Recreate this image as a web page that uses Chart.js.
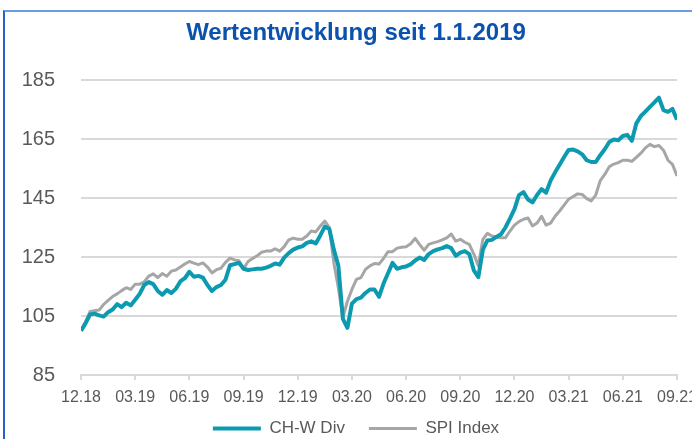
<!DOCTYPE html>
<html>
<head>
<meta charset="utf-8">
<script src="https://cdn.jsdelivr.net/npm/chart.js@4"></script>
<style>
  html, body { margin:0; padding:0; background:#ffffff; overflow:hidden; width:692px; height:439px; }
  #frame { position:absolute; left:3px; top:10px; width:689px; height:429px; box-sizing:border-box;
           border-top:2px solid #6a9de0; border-left:2px solid #2862c4; }
  #wrap { position:absolute; left:0; top:0; width:692px; height:457px; }
</style>
</head>
<body>
<div id="frame"></div>
<div id="wrap"><canvas id="c"></canvas></div>
<script>
// Quarter tick labels (x axis)
const quarterLabels = ['12.18','03.19','06.19','09.19','12.19','03.20','06.20','09.20','12.20','03.21','06.21','09.21'];
const pointsPerQuarter = 12; // roughly weekly samples
// Y axis ticks
const yTickValues = [85, 105, 125, 145, 165, 185];

// CH-W Div (teal)
const chwDiv = [
  100,102.5,105.5,105.8,105.2,104.8,106.3,107.2,109,108,
  109.5,108.6,110.5,112.5,115.5,116.5,115.8,113.5,112.2,113.8,
  112.8,114.2,116.7,117.8,120,118.3,118.6,118,115.5,113.5,
  114.8,115.5,117.3,122.2,122.6,123,121,120.6,120.8,121,
  121,121.4,122,122.8,122.4,124.8,126.3,127.5,128.2,128.6,
  129.8,130.3,129.6,132.3,135.3,134.5,127.5,122,104,101,
  109.2,110.7,111.2,112.8,114,114,111.5,116,119.5,123,
  121,121.5,121.8,122.5,123.8,124.8,124,126,127,127.6,
  128,128.7,128,125.4,126.5,127,126,120.5,118.2,127.5,
  130.6,130.8,131.8,132.7,135,138,141.2,146,147,144.5,
  143.5,146,148,146.8,150.9,153.7,156.3,158.9,161.3,161.4,
  160.8,159.8,157.8,157.2,157.2,159.5,161.5,164,164.8,164.6,
  166,166.4,164.4,170.3,172.8,174.3,175.9,177.4,179,174.8,
  174.2,175.2,171.5
];

// SPI Index (grey)
const spiIndex = [
  100,103,106.5,106.8,107,108.9,110.3,111.6,112.5,113.6,
  114.6,114,115.8,115.8,116.6,118.5,119.3,118,119.4,118.5,
  120.2,120.6,121.6,122.6,123.5,122.9,122.4,123,121.6,119.6,
  120.7,121.2,123.2,124.6,124,123.7,121,123.5,124.5,125.4,
  126.6,127,127,127.8,127,128.5,130.8,131.4,131,131,
  132.1,133.8,133.5,135.5,137.2,135,123,114.5,104.5,110,
  114,117.4,118,120.8,122,122.8,122.6,124.5,126.8,126.8,
  128,128.3,128.5,129.5,131.3,129.2,127.3,129.3,129.8,130.2,
  130.8,131.5,132.8,130.4,131,130,129.3,126,122,131,
  133,132.1,131.8,131.5,131.5,133.8,135.8,137,137.8,138.2,
  135.5,136.5,138.8,135.8,136.5,138.8,140.6,142.6,144.6,145.5,
  146.4,146.2,144.8,144,146,150.9,153,155.6,156.5,157,
  157.8,157.8,157.4,158.8,160.2,162,163.2,162.4,162.8,161.2,
  157.8,156.4,152.5
];

const toPoints = arr => arr.map((v, i) => ({ x: i, y: v }));
const xMax = (quarterLabels.length - 1) * pointsPerQuarter;

const regular = '"Liberation Sans", Arial, sans-serif';

// Pull the legend up so it sits just under the x tick labels
const legendNudge = {
  id: 'legendNudge',
  afterLayout(chart) {
    const lg = chart.legend;
    if (lg) { lg.top -= 10; lg.bottom -= 10; }
  }
};

new Chart(document.getElementById('c'), {
  type: 'line',
  data: {
    datasets: [
      { label: 'CH-W Div', data: toPoints(chwDiv), borderColor: '#0c9ab0', backgroundColor: '#0c9ab0',
        borderWidth: 4, pointRadius: 0, tension: 0, borderJoinStyle: 'round', fill: false },
      { label: 'SPI Index', data: toPoints(spiIndex), borderColor: '#a6a6a6', backgroundColor: '#a6a6a6',
        borderWidth: 3, pointRadius: 0, tension: 0, borderJoinStyle: 'round', fill: false }
    ]
  },
  plugins: [legendNudge],
  options: {
    responsive: true,
    maintainAspectRatio: false,
    animation: false,
    events: [],
    layout: { padding: { left: 20, right: 0, top: 0, bottom: 0 } },
    plugins: {
      title: {
        display: true,
        text: 'Wertentwicklung seit 1.1.2019',
        color: '#0b51ad',
        font: { family: regular, size: 24, weight: 'bold' },
        padding: { top: 19, bottom: 32.2 }
      },
      legend: {
        position: 'bottom',
        labels: {
          usePointStyle: true,
          pointStyle: 'line',
          pointStyleWidth: 48,
          padding: 24,
          color: '#595959',
          font: { family: regular, size: 17 }
        }
      },
      tooltip: { enabled: false }
    },
    scales: {
      x: {
        type: 'linear',
        min: 0,
        max: xMax,
        afterBuildTicks: s => { s.ticks = quarterLabels.map((l, i) => ({ value: i * pointsPerQuarter })); },
        ticks: {
          callback: (v, i) => quarterLabels[i],
          autoSkip: false, maxRotation: 0, minRotation: 0, padding: 8,
          color: '#595959', font: { family: regular, size: 16 }
        },
        grid: { drawOnChartArea: false, drawTicks: true, tickLength: 5, color: '#d9d9d9', lineWidth: 2 },
        border: { display: true, color: '#d9d9d9', width: 2 },
        afterFit: s => { s.height = 31; s.paddingLeft = 0; s.paddingRight = 15; }
      },
      y: {
        min: 85,
        max: 185,
        afterBuildTicks: s => { s.ticks = yTickValues.map(v => ({ value: v })); },
        ticks: { padding: 26, color: '#595959', font: { family: regular, size: 20 } },
        grid: { color: '#d9d9d9', lineWidth: 2, drawTicks: false },
        border: { display: false },
        afterFit: s => { s.width = 61; }
      }
    }
  }
});
</script>
</body>
</html>
